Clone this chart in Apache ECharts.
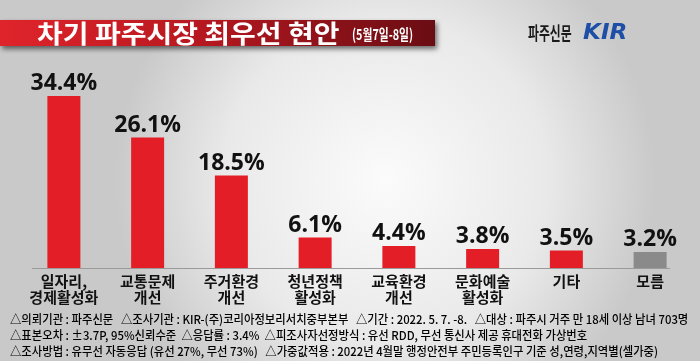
<!DOCTYPE html>
<html><head><meta charset="utf-8">
<script src="https://cdn.jsdelivr.net/npm/echarts@6/dist/echarts.min.js"></script>
<style>html,body{margin:0;padding:0;}#c{width:700px;height:361px;}</style>
</head><body><div id="c"></div>
<script>
const categories = ['일자리,\n경제활성화', '교통문제\n개선', '주거환경\n개선', '청년정책\n활성화', '교육환경\n개선', '문화예술\n활성화', '기타', '모름'];
const values = [34.4, 26.1, 18.5, 6.1, 4.4, 3.8, 3.5, 3.2];
const barColors = ['#e41e26', '#e41e26', '#e41e26', '#e41e26', '#e41e26', '#e41e26', '#e41e26', '#8a8a8a'];
const titleText = '차기 파주시장 최우선 현안';
const subTitleText = '(5월7일-8일)';
const brandText = '파주신문';
const notes = [
  '△의뢰기관 : 파주신문   △조사기관 : KIR-(주)코리아정보리서치중부본부   △기간 : 2022. 5. 7. -8.   △대상 : 파주시 거주 만 18세 이상 남녀 703명',
  '△표본오차 : ±3.7P, 95%신뢰수준  △응답률 : 3.4%  △피조사자선정방식 : 유선 RDD, 무선 통신사 제공 휴대전화 가상번호',
  '△조사방법 : 유무선 자동응답 (유선 27%, 무선 73%)   △가중값적용 : 2022년 4월말 행정안전부 주민등록인구 기준 성,연령,지역별(셀가중)'
];

const chart = echarts.init(document.getElementById('c'), null, {renderer: 'canvas'});
const CJK = '"Noto Sans CJK KR", "Noto Sans", sans-serif';
chart.setOption({
  animation: false,
  backgroundColor: {
    type: 'radial', x: 0.55, y: 0.5, r: 0.75,
    colorStops: [{offset: 0, color: '#fbfbfb'}, {offset: 0.6, color: '#e9e9e9'}, {offset: 1, color: '#c9c9c9'}]
  },
  grid: {left: 22, right: 8, top: 68, bottom: 93},
  xAxis: {
    type: 'category', data: categories,
    axisLine: {show: false}, axisTick: {show: false},
    axisLabel: {interval: 0, color: '#111', fontSize: 15, fontWeight: 'bold', fontFamily: CJK, lineHeight: 16, margin: 5}
  },
  yAxis: {type: 'value', min: 0, max: 40, show: false, splitLine: {show: false}},
  series: [{
    type: 'bar', barWidth: 33,
    data: values.map((v, i) => ({value: v, itemStyle: {color: barColors[i]}})),
    label: {show: true, position: 'top', distance: 1, formatter: p => p.value.toFixed(1) + '%',
      color: '#111', fontSize: 23, fontWeight: 'bold', fontFamily: '"Open Sans", sans-serif'}
  }],
  graphic: [
    {type: 'line', shape: {x1: 32, y1: 268.5, x2: 670, y2: 268.5}, style: {stroke: '#9a9a9a', lineWidth: 1}, z: 10},
    {type: 'rect', shape: {x: 0, y: 20, width: 435, height: 26},
      style: {fill: {type: 'linear', x: 0, y: 0, x2: 1, y2: 0, colorStops: [{offset: 0, color: '#e0242b'}, {offset: 0.45, color: '#b81820'}, {offset: 1, color: '#6a0d13'}]},
        shadowBlur: 5, shadowOffsetX: 2, shadowOffsetY: 3, shadowColor: 'rgba(0,0,0,0.55)'}},
    {type: 'text', x: 37, y: 33, scaleX: 1.12, style: {text: titleText, fill: '#fff', font: 'bold 25px ' + CJK, textVerticalAlign: 'middle'}},
    {type: 'text', x: 352, y: 34, scaleX: 0.72, style: {text: subTitleText, fill: '#fff', font: 'bold 15px ' + CJK, textVerticalAlign: 'middle'}},
    {type: 'text', x: 528, y: 33, scaleX: 0.66, style: {text: brandText, fill: '#1a1a1a', font: 'bold 18px ' + CJK, textVerticalAlign: 'middle'}},
    {type: 'text', x: 583, y: 34, scaleX: 1.1, style: {text: 'KIR', fill: '#1d4fa6', font: 'italic 900 21px "DejaVu Sans", sans-serif', textVerticalAlign: 'middle'}},
    {type: 'text', x: 10, y: 319, scaleX: 0.945, style: {text: notes[0], fill: '#000', font: '500 12px ' + CJK, textVerticalAlign: 'middle'}},
    {type: 'text', x: 10, y: 335, scaleX: 0.945, style: {text: notes[1], fill: '#000', font: '500 12px ' + CJK, textVerticalAlign: 'middle'}},
    {type: 'text', x: 10, y: 351, scaleX: 0.945, style: {text: notes[2], fill: '#000', font: '500 12px ' + CJK, textVerticalAlign: 'middle'}}
  ]
});
</script></body></html>
